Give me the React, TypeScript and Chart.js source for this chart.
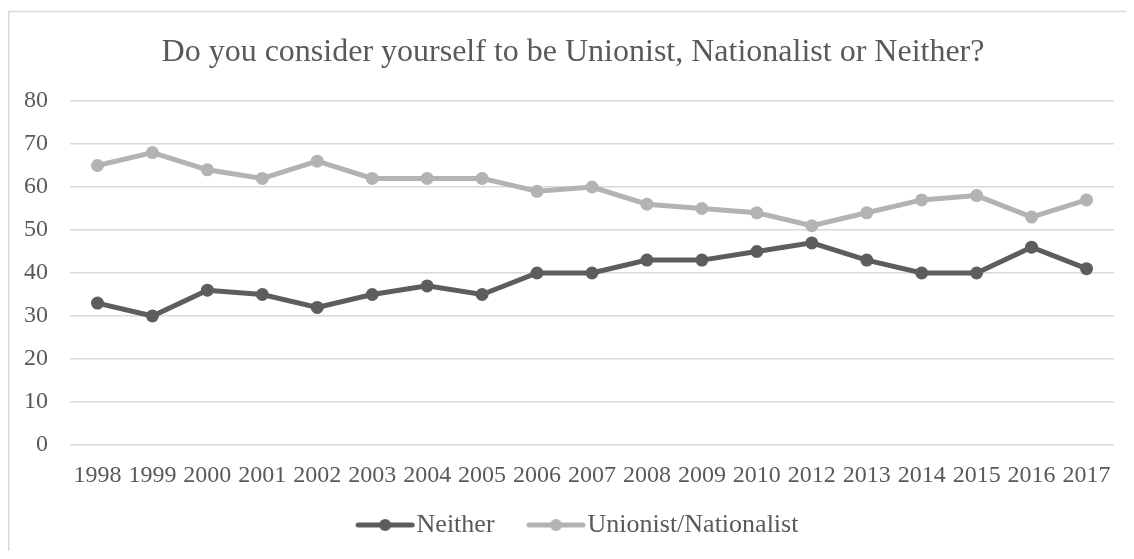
import React, { useEffect, useRef } from "react";
import { Chart, registerables } from "chart.js";

Chart.register(...registerables);

const categories = ["1998", "1999", "2000", "2001", "2002", "2003", "2004", "2005", "2006", "2007", "2008", "2009", "2010", "2012", "2013", "2014", "2015", "2016", "2017"];
const neither = [33, 30, 36, 35, 32, 35, 37, 35, 40, 40, 43, 43, 45, 47, 43, 40, 40, 46, 41];
const unionistNationalist = [65, 68, 64, 62, 66, 62, 62, 62, 59, 60, 56, 55, 54, 51, 54, 57, 58, 53, 57];
const yTicks = { min: 0, max: 80, step: 10 };
const titleText = "Do you consider yourself to be Unionist, Nationalist or Neither?";

const FONT = "'Liberation Serif', 'Times New Roman', serif";
const TEXT = "#595959";
const GRID = "#d9d9d9";
const DARK = "#5d5d5d";
const LIGHT = "#b3b3b3";

function legendSymbol(color: string): HTMLCanvasElement {
  const c = document.createElement("canvas");
  c.width = 80;
  c.height = 14;
  const ctx = c.getContext("2d")!;
  const cx = 49.5;
  ctx.strokeStyle = color;
  ctx.lineWidth = 5;
  ctx.lineCap = "round";
  ctx.beginPath();
  ctx.moveTo(cx - 27, 7);
  ctx.lineTo(cx + 27, 7);
  ctx.stroke();
  ctx.fillStyle = color;
  ctx.beginPath();
  ctx.arc(cx, 7, 6, 0, Math.PI * 2);
  ctx.fill();
  return c;
}

const borderPlugin = {
  id: "outerBorder",
  beforeDraw(chart: any) {
    const ctx = chart.ctx;
    ctx.save();
    ctx.strokeStyle = GRID;
    ctx.lineWidth = 1.5;
    ctx.beginPath();
    ctx.moveTo(0.75, chart.height);
    ctx.lineTo(0.75, 3.5);
    ctx.lineTo(chart.width, 3.5);
    ctx.stroke();
    ctx.restore();
  },
};

export default function App() {
  const ref = useRef<HTMLCanvasElement | null>(null);
  useEffect(() => {
    if (!ref.current) return;
    const symbols = [legendSymbol(DARK), legendSymbol(LIGHT)];
    const chart = new Chart(ref.current, {
      type: "line",
      data: {
        labels: categories,
        datasets: [
          {
            label: "Neither",
            data: neither,
            borderColor: DARK,
            backgroundColor: DARK,
            borderWidth: 5,
            pointRadius: 6.5,
            pointHoverRadius: 6.5,
            pointBackgroundColor: DARK,
            pointBorderWidth: 0,
            tension: 0,
            yAxisID: "y",
          },
          {
            label: "Unionist/Nationalist",
            data: unionistNationalist,
            borderColor: LIGHT,
            backgroundColor: LIGHT,
            borderWidth: 5,
            pointRadius: 6.5,
            pointHoverRadius: 6.5,
            pointBackgroundColor: LIGHT,
            pointBorderWidth: 0,
            tension: 0,
            yAxisID: "y",
          },
        ],
      },
      options: {
        responsive: false,
        animation: false,
        layout: { padding: { left: 0, right: 0, top: 0, bottom: 3 } },
        plugins: {
          title: {
            display: true,
            text: titleText,
            color: TEXT,
            font: { family: FONT, size: 32, weight: "normal" },
            padding: { top: 25, bottom: 29.6 },
          },
          legend: {
            position: "bottom",
            labels: {
              usePointStyle: true,
              pointStyleWidth: 56,
              padding: 24,
              color: TEXT,
              font: { family: FONT, size: 26 },
              generateLabels: (chart: any) =>
                chart.data.datasets.map((ds: any, i: number) => ({
                  text: ds.label,
                  pointStyle: symbols[i],
                  fillStyle: ds.borderColor,
                  strokeStyle: ds.borderColor,
                  lineWidth: 0,
                  hidden: false,
                  datasetIndex: i,
                  fontColor: TEXT,
                })),
            },
          },
          tooltip: { enabled: false },
        },
        scales: {
          x: {
            offset: true,
            afterFit: (scale: any) => {
              scale.height = 43;
            },
            grid: { display: false, drawTicks: false, offset: true },
            border: { display: false },
            ticks: {
              color: TEXT,
              font: { family: FONT, size: 24 },
              padding: 16,
              maxRotation: 0,
              autoSkip: false,
            },
          },
          y: {
            min: yTicks.min,
            max: yTicks.max,
            afterFit: (scale: any) => {
              scale.width = 62;
            },
            grid: { color: GRID, lineWidth: 1.5, drawTicks: false },
            border: { display: false },
            ticks: {
              stepSize: yTicks.step,
              color: TEXT,
              font: { family: FONT, size: 24 },
              padding: 22,
            },
          },
          yRight: {
            type: "linear",
            position: "right",
            display: true,
            min: yTicks.min,
            max: yTicks.max,
            afterFit: (scale: any) => {
              scale.width = 24;
            },
            grid: { display: false, drawTicks: false },
            border: { display: false },
            ticks: { display: false },
          },
        },
      },
      plugins: [borderPlugin],
    });
    return () => chart.destroy();
  }, []);
  return (
    <div style={{ width: 1126, height: 543, overflow: "hidden" }}>
      <canvas ref={ref} width={1130} height={543} style={{ display: "block" }} />
    </div>
  );
}
